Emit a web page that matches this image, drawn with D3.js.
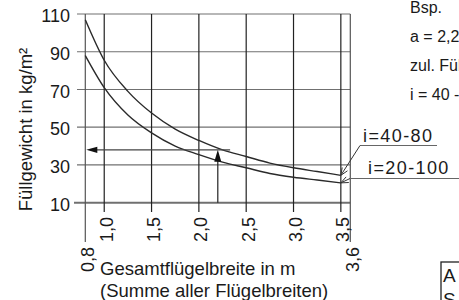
<!DOCTYPE html>
<html>
<head>
<meta charset="utf-8">
<script src="https://cdn.jsdelivr.net/npm/d3@7"></script>
<style>
  body { margin: 0; background: #fff; }
  svg { display: block; font-family: "Liberation Sans", Arial, sans-serif; }
  text { fill: #1a1a1a; }
</style>
</head>
<body>
<svg width="459" height="300"></svg>
<script>
// Gesamtflügelbreite (m) at which the curves were read
var widths = [0.8, 1.0, 1.25, 1.5, 1.75, 2.0, 2.25, 2.5, 2.75, 3.0, 3.25, 3.5];
// Füllgewicht (kg/m²)
var curve40to80 = [107, 85.5, 69, 57.5, 49, 43, 38, 34.5, 31, 28.5, 26.5, 24.5];
var curve20to100 = [88, 71, 56.5, 47, 40, 35.5, 31.5, 28.5, 25.5, 23.5, 22, 20.5];

var xTicks = [0.8, 1.0, 1.5, 2.0, 2.5, 3.0, 3.5, 3.6];
var yTicks = [10, 30, 50, 70, 90, 110];

// Beispiel: a = 2,2 m -> 38 kg/m²
var exampleA = 2.2, exampleG = 38, exampleLineEnd = 2.33;

var infoLines = ["Bsp.", "a = 2,2 m", "zul. Füllgewicht", "i = 40 - 80"];

var svg = d3.select("svg");

var x = d3.scaleLinear().domain([0.8, 3.6]).range([85.3, 350.3]);
var y = d3.scaleLinear().domain([10, 110]).range([202.7, 14]);

var de = d3.formatLocale({decimal: ",", thousands: ".", grouping: [3], currency: ["", " €"]});
var fmt = de.format(".1f");

// horizontal grid lines
svg.selectAll(".hgrid")
    .data(yTicks)
    .enter().append("line")
    .attr("x1", function(d) { return d == 10 ? 74 : 77; })
    .attr("x2", x(3.6))
    .attr("y1", function(d) { return y(d); })
    .attr("y2", function(d) { return y(d); })
    .style("stroke", "#707070")
    .style("stroke-width", function(d) { return d == 10 ? 2 : 1.2; });

// vertical grid lines (the outer ones run further down)
svg.selectAll(".vgrid")
    .data(xTicks)
    .enter().append("line")
    .attr("x1", function(d) { return x(d); })
    .attr("x2", function(d) { return x(d); })
    .attr("y1", y(110))
    .attr("y2", function(d) { return (d == 0.8 || d == 3.6) ? 242 : 212; })
    .style("stroke", function(d) { return (d == 0.8 || d == 3.6) ? "#555" : "#222"; })
    .style("stroke-width", 1.2);

// y tick labels
svg.selectAll(".ylab")
    .data(yTicks)
    .enter().append("text")
    .attr("x", 70)
    .attr("y", function(d) { return y(d); })
    .attr("dy", "0.45em")
    .style("text-anchor", "end")
    .style("font-size", "18px")
    .text(function(d) { return d; });

// x tick labels, rotated
svg.selectAll(".xlab")
    .data(xTicks)
    .enter().append("text")
    .attr("transform", function(d) {
        var ty = (d == 0.8 || d == 3.6) ? 247 : 217;
        return "translate(" + (x(d) + 8.5) + "," + ty + ") rotate(-90)";
    })
    .style("text-anchor", "end")
    .style("font-size", "18px")
    .text(function(d) { return fmt(d); });

// axis titles
svg.append("text")
    .attr("transform", "translate(32,129.5) rotate(-90)")
    .style("text-anchor", "middle")
    .style("font-size", "18.5px")
    .text("Füllgewicht in kg/m²");

svg.append("text")
    .attr("x", 100).attr("y", 275)
    .style("font-size", "18.5px")
    .text("Gesamtflügelbreite in m");
svg.append("text")
    .attr("x", 100).attr("y", 296.5)
    .style("font-size", "18.5px")
    .text("(Summe aller Flügelbreiten)");

// curves
var line = d3.line()
    .x(function(d) { return x(d[0]); })
    .y(function(d) { return y(d[1]); })
    .curve(d3.curveMonotoneX);

[curve40to80, curve20to100].forEach(function(vals) {
    svg.append("path")
        .datum(d3.zip(widths, vals))
        .attr("d", line)
        .style("fill", "none")
        .style("stroke", "#2a2a2a")
        .style("stroke-width", 1.4);
});

// curve labels with leader lines
function openArrow(tx, ty, fx, fy) {
    var ang = Math.atan2(fy - ty, fx - tx), len = 8, spread = 0.4;
    var p = "M" + (tx + len * Math.cos(ang - spread)) + "," + (ty + len * Math.sin(ang - spread)) +
            "L" + tx + "," + ty +
            "L" + (tx + len * Math.cos(ang + spread)) + "," + (ty + len * Math.sin(ang + spread));
    svg.append("path").attr("d", p)
        .style("fill", "none").style("stroke", "#333").style("stroke-width", 1);
}

var labels = [
    {text: "i=40-80", vals: curve40to80, tx: 363, ty: 142, ux1: 360, ux2: 437, uy: 145.5},
    {text: "i=20-100", vals: curve20to100, tx: 368, ty: 174, ux1: 350, ux2: 460, uy: 178.5}
];
labels.forEach(function(l) {
    var tipX = x(widths[widths.length - 1]), tipY = y(l.vals[l.vals.length - 1]);
    svg.append("line")
        .attr("x1", l.ux1).attr("x2", l.ux2).attr("y1", l.uy).attr("y2", l.uy)
        .style("stroke", "#666").style("stroke-width", 1.2);
    svg.append("line")
        .attr("x1", l.ux1).attr("y1", l.uy).attr("x2", tipX).attr("y2", tipY)
        .style("stroke", "#333").style("stroke-width", 1);
    openArrow(tipX, tipY, l.ux1, l.uy);
    svg.append("text")
        .attr("x", l.tx).attr("y", l.ty)
        .style("font-size", "18px")
        .style("letter-spacing", "1.4px")
        .text(l.text);
});

// example arrows
svg.append("line")
    .attr("x1", x(exampleA)).attr("x2", x(exampleA))
    .attr("y1", y(10)).attr("y2", y(exampleG) + 10)
    .style("stroke", "#222").style("stroke-width", 1.2);
svg.append("path")
    .attr("d", "M" + x(exampleA) + "," + y(exampleG) + "l-3.5,12h7z")
    .style("fill", "#111");

svg.append("line")
    .attr("x1", x(exampleLineEnd)).attr("x2", x(0.8) + 10)
    .attr("y1", y(exampleG)).attr("y2", y(exampleG))
    .style("stroke", "#444").style("stroke-width", 1.4);
svg.append("path")
    .attr("d", "M" + (x(0.8) + 1) + "," + y(exampleG) + "l11,-3.2v6.4z")
    .style("fill", "#111");

// example text on the right (runs past the edge, as in the original)
svg.selectAll(".info")
    .data(infoLines)
    .enter().append("text")
    .attr("x", 410)
    .attr("y", function(d, i) { return 12.5 + i * 29; })
    .style("font-size", "16px")
    .text(function(d) { return d; });

// box in the lower right corner
svg.append("rect")
    .attr("x", 441).attr("y", 262).attr("width", 40).attr("height", 60)
    .style("fill", "none").style("stroke", "#222").style("stroke-width", 1.3);
svg.append("text").attr("x", 443).attr("y", 282).style("font-size", "19px").text("A");
svg.append("text").attr("x", 443).attr("y", 306).style("font-size", "19px").text("S");
</script>
</body>
</html>
